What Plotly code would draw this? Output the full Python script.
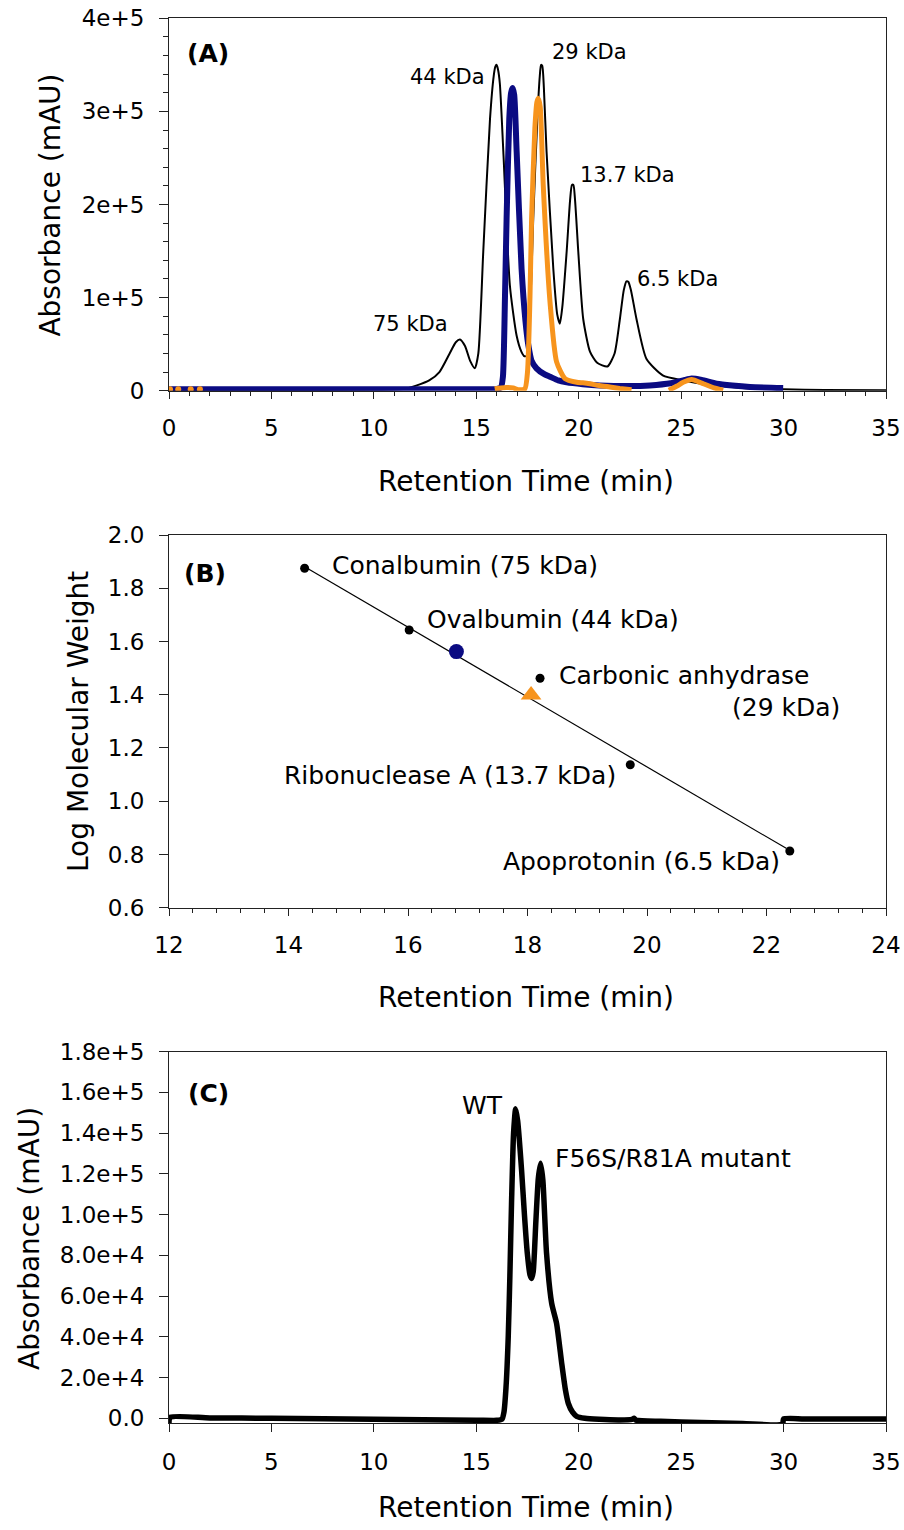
import plotly.graph_objects as go

# ---------------- Panel A: calibration standards and samples ----------------
std_time = [0, 5, 10, 11.5, 12.1, 12.7, 13.2, 13.7, 14.0, 14.2, 14.45, 14.7, 14.93, 15.1,
            15.34, 15.67, 15.85, 15.93, 15.99, 16.06, 16.15, 16.32, 16.64, 16.97, 17.2, 17.35, 17.49, 17.62,
            17.78, 17.98, 18.1, 18.16, 18.22, 18.3, 18.43, 18.76, 18.95, 19.08, 19.2, 19.41, 19.58,
            19.67, 19.74, 19.82, 19.98, 20.22, 20.55, 20.9, 21.4, 21.75, 22.01, 22.2, 22.33, 22.42, 22.55,
            22.82, 23.31, 24.1, 25.1, 26.5, 28, 30, 32, 35]
std_abs = [800, 800, 900, 2000, 5700, 11000, 20000, 40000, 52000, 55000, 48000, 32000, 24000, 40000,
           149000, 292000, 338000, 348000, 350000, 345000, 330000, 257000, 113000, 59000, 42000, 37000, 38000, 80000,
           185000, 292000, 338000, 350000, 349000, 325000, 257000, 131000, 82000, 72000, 90000, 149000, 205000,
           221000, 221000, 205000, 149000, 77000, 42000, 30000, 26000, 40000, 77000, 108000, 117500, 117000, 108000,
           77000, 34000, 16500, 11000, 6000, 3000, 1500, 800, 500]

blue_time = [0, 5, 10, 15, 16.0, 16.2, 16.3, 16.4, 16.48, 16.61, 16.7, 16.77, 16.85, 16.97,
             17.21, 17.4, 17.54, 17.7, 17.94, 18.3, 18.6, 19.0, 19.41, 20.2, 21.03, 22.5, 23.47,
             24.5, 25.1, 25.51, 26.0, 26.73, 27.5, 28.36, 29.98]
blue_abs = [1500, 1500, 1500, 1500, 2000, 3500, 15000, 100000, 185000, 292000, 320000, 325000, 318000, 257000,
            131000, 75000, 49000, 32000, 24000, 18000, 15000, 11000, 9000, 7000, 5700, 5000, 5700,
            8000, 11000, 13000, 11500, 7500, 5500, 4000, 3000]

orange_time = [15.9, 16.2, 16.48, 16.8, 17.05, 17.37, 17.5, 17.62, 17.7, 17.86, 17.96, 18.03,
               18.12, 18.27, 18.6, 18.92, 19.33, 19.9, 20.2, 20.55, 21.0, 21.52, 22.0, 22.58, None,
               24.4, 24.8, 25.1, 25.51, 26.08, 26.6, 27.05]
orange_abs = [2000, 3000, 3500, 3000, 1000, 2000, 20000, 100000, 185000, 282000, 310000, 314000,
              305000, 220000, 95000, 31000, 13000, 9000, 8500, 7500, 5500, 4000, 2500, 1000, None,
              500, 5000, 9000, 12000, 7500, 3000, 500]
orange_dot_time = [0.05, 0.45, 1.06, 1.51]
orange_dot_abs = [1500, 1500, 1500, 1500]

a_labels = ["(A)", "44 kDa", "29 kDa", "13.7 kDa", "6.5 kDa", "75 kDa"]
a_label_x = [0.8, 15.5, 18.6, 19.98, 22.76, 13.7]
a_label_y = [362000, 337000, 364000, 231500, 120400, 72000]

# ---------------- Panel B: calibration line ----------------
std_rt = [14.27, 16.02, 18.21, 19.72, 22.39]
std_logmw = [1.875, 1.643, 1.462, 1.137, 0.813]
fit_rt = [14.27, 22.33]
fit_logmw = [1.881, 0.823]
wt_rt, wt_logmw = [16.81], [1.562]
mut_rt, mut_logmw = [18.06], [1.399]

b_labels = ["Conalbumin (75 kDa)", "Ovalbumin (44 kDa)", "Carbonic anhydrase", "(29 kDa)",
            "Ribonuclease A (13.7 kDa)", "Apoprotonin (6.5 kDa)"]
b_label_x = [14.7, 16.28, 18.5, 23.27, 19.51, 22.26]
b_label_y = [1.887, 1.683, 1.474, 1.353, 1.098, 0.773]
b_label_anchor = ["left", "left", "left", "right", "right", "right"]

# ---------------- Panel C: mixture chromatogram ----------------
c_time = [0, 0.05, 2, 5, 10, 15, 16.0, 16.25, 16.35, 16.45, 16.56, 16.64, 16.72, 16.82, 16.92,
          17.02, 17.21, 17.35, 17.49, 17.62, 17.70, 17.78, 17.91, 18.03, 18.14, 18.25, 18.43,
          18.68, 18.92, 19.17, 19.35, 19.49, 19.7, 19.9, 20.3, 21.0, 22.0, 22.6, 22.7, 22.8,
          24, 26, 28, 29.95, 30.0, 31, 33, 35]
c_abs = [-2500, 500, 200, 0, -500, -900, -1000, -500, 3000, 15000, 40000, 70000, 105500, 140000, 152000,
         146000, 122000, 100000, 81000, 70500, 68700, 72000, 97000, 118000, 125200, 117000, 81000,
         56500, 46600, 27000, 14000, 7400, 3000, 1000, 0, -500, -800, -500, 0, -900,
         -1500, -2000, -2500, -2800, -300, -300, -300, -300]

a_yticks = [0, 100000, 200000, 300000, 400000]
a_yticktext = ["0", "1e+5", "2e+5", "3e+5", "4e+5"]
c_yticks = [0, 20000, 40000, 60000, 80000, 100000, 120000, 140000, 160000, 180000]
c_yticktext = ["0.0", "2.0e+4", "4.0e+4", "6.0e+4", "8.0e+4", "1.0e+5", "1.2e+5", "1.4e+5", "1.6e+5", "1.8e+5"]

FONT = "DejaVu Sans"
BLUE = "#0b0b82"
ORANGE = "#f7941d"
AXC = "#222222"

fig = go.Figure()

# Panel A traces
fig.add_trace(go.Scatter(x=std_time, y=std_abs, mode="lines", xaxis="x", yaxis="y",
                         line=dict(color="black", width=2, shape="spline", smoothing=0.6)))
fig.add_trace(go.Scatter(x=blue_time, y=blue_abs, mode="lines", xaxis="x", yaxis="y",
                         line=dict(color=BLUE, width=6, shape="spline", smoothing=0.6)))
fig.add_trace(go.Scatter(x=orange_time, y=orange_abs, mode="lines", xaxis="x", yaxis="y",
                         line=dict(color=ORANGE, width=5, shape="spline", smoothing=0.6)))
fig.add_trace(go.Scatter(x=orange_dot_time, y=orange_dot_abs, mode="markers", xaxis="x", yaxis="y",
                         marker=dict(color=ORANGE, size=6)))

# Panel B traces
fig.add_trace(go.Scatter(x=fit_rt, y=fit_logmw, mode="lines", xaxis="x2", yaxis="y2",
                         line=dict(color="black", width=1.2)))
fig.add_trace(go.Scatter(x=std_rt, y=std_logmw, mode="markers", xaxis="x2", yaxis="y2",
                         marker=dict(color="black", size=9)))
fig.add_trace(go.Scatter(x=wt_rt, y=wt_logmw, mode="markers", xaxis="x2", yaxis="y2",
                         marker=dict(color=BLUE, size=15)))
fig.add_trace(go.Scatter(x=mut_rt, y=mut_logmw, mode="markers", xaxis="x2", yaxis="y2",
                         marker=dict(color=ORANGE, size=18, symbol="triangle-up")))

# Panel C trace
fig.add_trace(go.Scatter(x=c_time, y=c_abs, mode="lines", xaxis="x3", yaxis="y3",
                         line=dict(color="black", width=5.5, shape="spline", smoothing=0.6)))

xdom = [169 / 904, 886 / 904]
common = dict(showline=True, linecolor=AXC, linewidth=1, mirror=True, ticks="outside",
              tickcolor=AXC, tickwidth=1.2, showgrid=False, zeroline=False,
              tickfont=dict(family=FONT, size=23, color="black"), automargin=False)

fig.update_layout(
    width=904, height=1530, margin=dict(l=0, r=0, t=0, b=0),
    paper_bgcolor="white", plot_bgcolor="white", showlegend=False,
    font=dict(family=FONT, color="black"),
    xaxis=dict(domain=xdom, anchor="y", range=[0, 35], tickvals=[0, 5, 10, 15, 20, 25, 30, 35],
               ticklen=7, ticklabelstandoff=10,
               minor=dict(dtick=1, ticks="outside", ticklen=4, tickcolor=AXC), **common),
    yaxis=dict(domain=[1 - 390.7 / 1530, 1 - 18.3 / 1530], anchor="x", range=[0, 400000],
               tickvals=a_yticks, ticktext=a_yticktext, ticklen=9, ticklabelstandoff=10,
               minor=dict(dtick=20000, ticks="outside", ticklen=5, tickcolor=AXC), **common),
    xaxis2=dict(domain=xdom, anchor="y2", range=[12, 24], dtick=2, ticklen=7, ticklabelstandoff=10,
                minor=dict(dtick=0.4, ticks="outside", ticklen=4, tickcolor=AXC), **common),
    yaxis2=dict(domain=[1 - 907.7 / 1530, 1 - 535 / 1530], anchor="x2", range=[0.6, 2.0],
                dtick=0.2, tickformat=".1f", ticklen=9, ticklabelstandoff=10, **common),
    xaxis3=dict(domain=xdom, anchor="y3", range=[0, 35], dtick=5, ticklen=8, ticklabelstandoff=10, **common),
    yaxis3=dict(domain=[1 - 1423.4 / 1530, 1 - 1051.7 / 1530], anchor="x3", range=[-2500, 180000],
                tickvals=c_yticks, ticktext=c_yticktext, ticklen=9, ticklabelstandoff=10, **common),
)

ann = []
for i, (t, x, y) in enumerate(zip(a_labels, a_label_x, a_label_y)):
    bold = t.startswith("(")
    anchor = "left" if i in (0, 2, 3, 4) else "right"
    ann.append(dict(x=x, y=y, xref="x", yref="y", text=f"<b>{t}</b>" if bold else t,
                    showarrow=False, xanchor=anchor, yanchor="middle",
                    font=dict(family=FONT, size=25 if bold else 21, color="black")))
ann.append(dict(x=12.22, y=1.856, xref="x2", yref="y2", text="<b>(B)</b>", showarrow=False,
                xanchor="left", yanchor="middle", font=dict(family=FONT, size=25, color="black")))
for t, x, y, a in zip(b_labels, b_label_x, b_label_y, b_label_anchor):
    ann.append(dict(x=x, y=y, xref="x2", yref="y2", text=t, showarrow=False, xanchor=a,
                    yanchor="middle", font=dict(family=FONT, size=25, color="black")))
ann.append(dict(x=0.84, y=159500, xref="x3", yref="y3", text="<b>(C)</b>", showarrow=False,
                xanchor="left", yanchor="middle", font=dict(family=FONT, size=25, color="black")))
ann.append(dict(x=16.42, y=153800, xref="x3", yref="y3", text="WT", showarrow=False,
                xanchor="right", yanchor="middle", font=dict(family=FONT, size=25, color="black")))
ann.append(dict(x=18.73, y=127600, xref="x3", yref="y3", text="F56S/R81A mutant", showarrow=False,
                xanchor="left", yanchor="middle", font=dict(family=FONT, size=25, color="black")))

# axis titles
for ytxt, px, py in [("Absorbance (mAU)", 50.6, 205), ("Log Molecular Weight", 78, 722),
                     ("Absorbance (mAU)", 29, 1239)]:
    ann.append(dict(x=px / 904, y=1 - py / 1530, xref="paper", yref="paper", text=ytxt,
                    textangle=-90, showarrow=False, xanchor="center", yanchor="middle",
                    font=dict(family=FONT, size=28, color="black")))
for py in [481, 997, 1507]:
    ann.append(dict(x=525.5 / 904, y=1 - py / 1530, xref="paper", yref="paper",
                    text="Retention Time (min)", showarrow=False, xanchor="center", yanchor="middle",
                    font=dict(family=FONT, size=28, color="black")))

fig.update_layout(annotations=ann)
fig.write_html("out.html")
